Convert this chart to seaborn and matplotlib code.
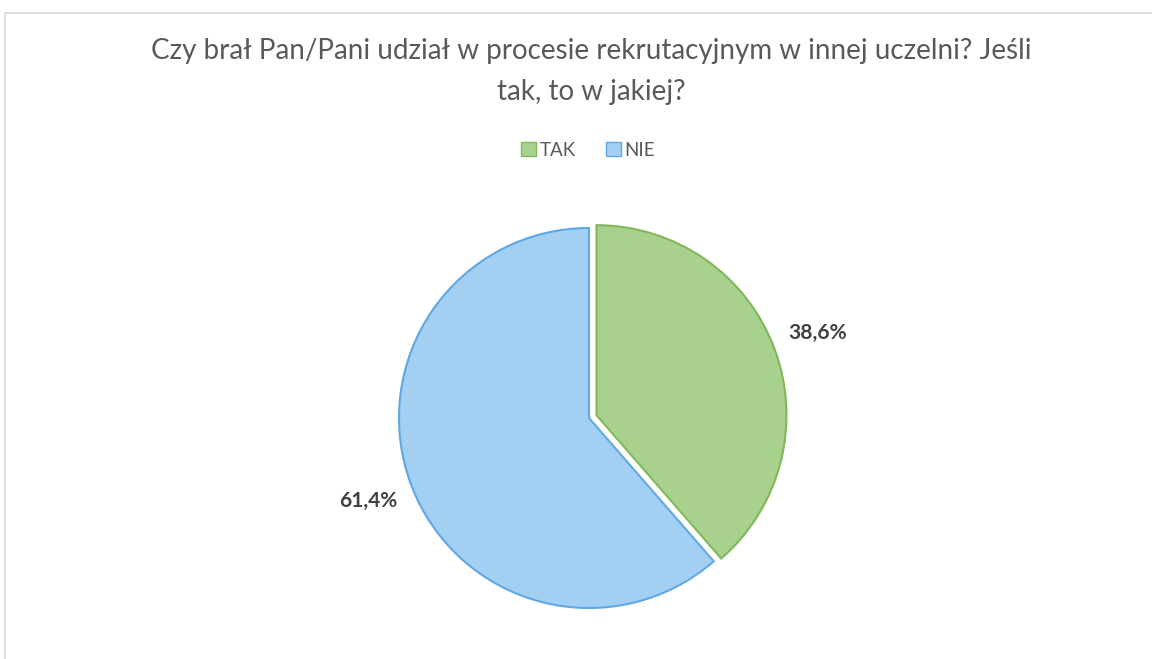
import matplotlib
matplotlib.use("Agg")
import matplotlib.pyplot as plt
import seaborn as sns
from matplotlib.patches import Rectangle, Patch

sns.set_theme(style="white")
plt.rcParams['font.family'] = ['Lato', 'DejaVu Sans']

title = "Czy brał Pan/Pani udział w procesie rekrutacyjnym w innej uczelni? Jeśli\ntak, to w jakiej?"
categories = ["TAK", "NIE"]
values = [38.6, 61.4]
fill_colors = ["#a9d18e", "#a3cff3"]
edge_colors = ["#7fb85a", "#5fa8e6"]

W, H = 1152, 659
fig = plt.figure(figsize=(W / 100, H / 100), dpi=100)
fig.patch.set_facecolor("white")
ax = fig.add_axes([0, 0, 1, 1])

# chart frame
ax.add_patch(Rectangle((5, -10), W + 20, H - 13 + 10, fill=False,
                       edgecolor="#d4d6de", linewidth=1.2))

wedges, texts, autotexts = ax.pie(
    values, startangle=90, counterclock=False,
    colors=fill_colors, explode=[8, 0],
    center=(589, H - 418), radius=190,
    autopct=lambda p: f"{p:.1f}%".replace(".", ","),
    pctdistance=1.24, frame=True,
    wedgeprops=dict(linewidth=1.5),
    textprops=dict(fontsize=15, fontweight="bold", color="#404040"),
)
for w, ec in zip(wedges, edge_colors):
    w.set_edgecolor(ec)
ax.set_xlim(0, W)
ax.set_ylim(0, H)
ax.set_aspect("equal")
ax.axis("off")

fig.text(591 / W, 1 - 38 / H, title, ha="center", va="top",
         fontsize=20, color="#595959", linespacing=1.72)

handles = [Patch(facecolor=f, edgecolor=e, linewidth=1) for f, e in zip(fill_colors, edge_colors)]
fig.legend(handles, categories, loc="center", bbox_to_anchor=(588 / W, 1 - 150 / H),
           ncol=2, frameon=False, fontsize=13.5, labelcolor="#595959",
           handlelength=0.8, handleheight=0.8, handletextpad=0.2, columnspacing=1.6)

fig.savefig("out.png", dpi=100, facecolor="white")
